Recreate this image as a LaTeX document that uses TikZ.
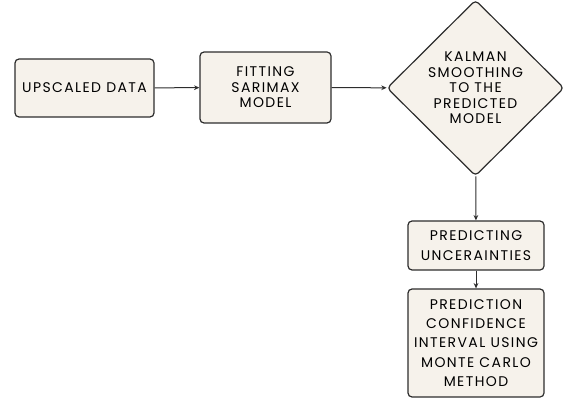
\documentclass[tikz,border=0pt]{standalone}
\usepackage{fontspec}
\setmainfont{Poppins}[LetterSpace=10]
\usetikzlibrary{shapes.geometric,arrows.meta}

\begin{document}
\begin{tikzpicture}[x=0.75pt,y=-0.75pt]
\definecolor{flow_bgbox}{RGB}{246,242,235}
\definecolor{flow_edge}{RGB}{45,45,45}
\tikzset{
  flowbox/.style={shape=rectangle,draw=flow_edge,fill=flow_bgbox,line width=0.9pt,rounded corners=3pt,align=center,inner sep=0pt,font=\fontsize{10.5}{11.6}\selectfont},
  widebox/.style={flowbox,font=\fontsize{10.5}{14.5}\selectfont},
  flowarrow/.style={-{Stealth[length=4pt,width=3.5pt]},line width=0.75pt,color=flow_edge}
}
\useasboundingbox (0,0) rectangle (574,399);
% top row
\node[flowbox,minimum width=104.25pt,minimum height=43.5pt] (upscaled) at (84.5,88) {UPSCALED DATA};
\node[flowbox,minimum width=98.25pt,minimum height=53.25pt] (sarimax) at (265.5,87.5) {FITTING\\SARIMAX\\MODEL};
\node[flowbox,shape=diamond,minimum width=132.75pt,minimum height=132pt,
  label={[align=center,font=\fontsize{10.5}{11.6}\selectfont]center:KALMAN\\SMOOTHING\\TO THE\\PREDICTED\\MODEL}] (kalman) at (475.5,88) {};
% right column
\node[widebox,minimum width=102pt,minimum height=36.75pt] (uncert) at (476,245.5) {PREDICTING\\UNCERAINTIES};
\node[widebox,minimum width=102pt,minimum height=81pt] (montecarlo) at (476,343) {PREDICTION\\CONFIDENCE\\INTERVAL USING\\MONTE CARLO\\METHOD};
\draw[flowarrow] (upscaled) to (sarimax);
\draw[flowarrow] (sarimax) to (kalman);
\draw[flowarrow] (kalman) to (uncert);
\draw[flowarrow] (uncert) to (montecarlo);
\end{tikzpicture}
\end{document}
